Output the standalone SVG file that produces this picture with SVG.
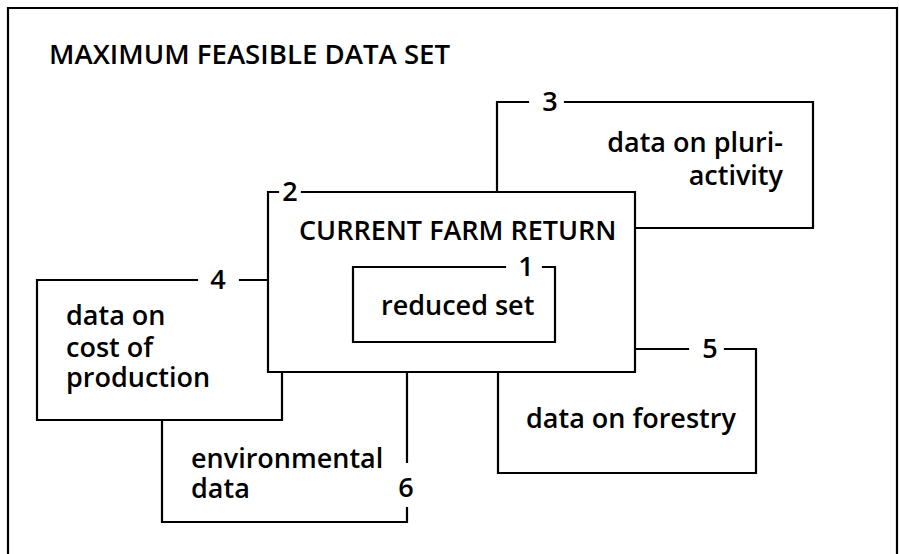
<svg xmlns="http://www.w3.org/2000/svg" width="899" height="554" viewBox="0 0 899 554">
<style>
.ln{fill:none;stroke:#000;stroke-width:2.2;stroke-linecap:square}
.bg{fill:#fff;stroke:none}
text{font-family:"Open Sans","Noto Sans","DejaVu Sans",sans-serif;font-weight:600;fill:#000;font-size:27px}
.num{text-anchor:middle}
.end{text-anchor:end}
</style>
<rect width="899" height="554" fill="#fff"/>
<g id="outer">
<path class="ln" d="M8,560 V8 H897 V560"/>
<text x="49" y="64" style="font-size:27.6px">MAXIMUM FEASIBLE DATA SET</text>
</g>
<g id="connectors"></g>
<g id="node3">
<rect class="bg" x="497" y="102" width="316" height="126"/>
<path class="ln" d="M528,102 H497 V192 M565,102 H813 V228 H635"/>
<text class="num" x="550" y="111">3</text>
<text class="end" x="783" y="152">data on pluri-</text>
<text class="end" x="783" y="185">activity</text>
</g>
<g id="node5">
<rect class="bg" x="498" y="349" width="258" height="124"/>
<path class="ln" d="M688,349 H635 M725,349 H756 V473 H498 V372"/>
<text class="num" x="710" y="358">5</text>
<text x="526" y="428">data on forestry</text>
</g>
<g id="node6">
<rect class="bg" x="162" y="360" width="245" height="162"/>
<path class="ln" d="M162,420 V522 H407 V508 M407,462 V372"/>
<text class="num" x="406" y="497">6</text>
<text x="191" y="468">environmental</text>
<text x="191" y="498">data</text>
</g>
<g id="node4">
<rect class="bg" x="37" y="280" width="245" height="140"/>
<path class="ln" d="M197,280 H37 V420 H282 V372 M240,280 H268"/>
<text class="num" x="218" y="289">4</text>
<text x="66" y="325">data on</text>
<text x="66" y="357">cost of</text>
<text x="66" y="387">production</text>
</g>
<g id="node2">
<rect class="bg" x="268" y="192" width="367" height="180"/>
<path class="ln" d="M278,192 H268 V372 H635 V192 H302"/>
<text class="num" x="290" y="201">2</text>
<text x="299" y="240">CURRENT FARM RETURN</text>
</g>
<g id="node1">
<rect class="bg" x="353" y="267" width="202" height="75"/>
<path class="ln" d="M505,267 H353 V342 H555 V267 H543"/>
<text class="num" x="526" y="276">1</text>
<text x="381" y="315">reduced set</text>
</g>
</svg>
